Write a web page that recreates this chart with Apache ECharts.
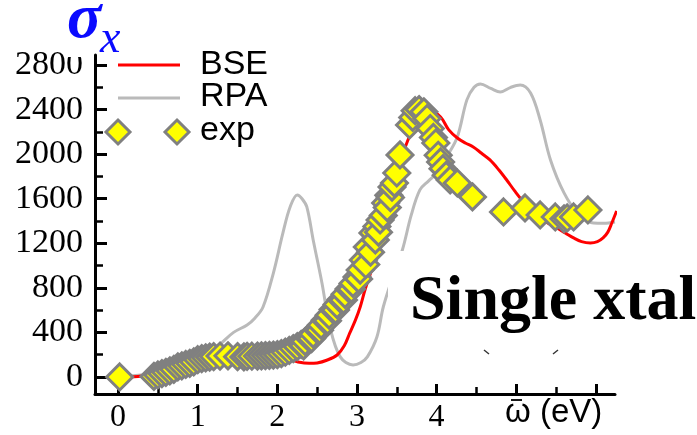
<!DOCTYPE html>
<html>
<head>
<meta charset="utf-8">
<style>
  html, body { margin: 0; padding: 0; background: #ffffff; }
  #chart { width: 697px; height: 435px; }
</style>
<script src="https://cdn.jsdelivr.net/npm/echarts@6/dist/echarts.min.js"></script>
</head>
<body>
<div id="chart"></div>
<script>
// Optical conductivity sigma_x of the single crystal: BSE and RPA spectra vs. experiment
const bseEnergy = [0, 0.25, 0.5, 0.75, 1.0, 1.25, 1.5, 1.75, 2.0, 2.15, 2.26, 2.4, 2.5, 2.62, 2.75, 2.84, 2.91, 2.98, 3.04, 3.1, 3.2, 3.3, 3.4, 3.5, 3.64, 3.78, 3.92, 4.05, 4.15, 4.26, 4.36, 4.46, 4.56, 4.67, 4.78, 4.88, 4.98, 5.07, 5.18, 5.3, 5.4, 5.51, 5.62, 5.72, 5.82, 5.93, 6.02, 6.09, 6.15, 6.2, 6.26];
const bseSigma  = [0, 5, 35, 90, 140, 175, 190, 195, 190, 160, 135, 122, 126, 150, 197, 280, 395, 510, 628, 780, 1000, 1280, 1560, 1830, 2127, 2320, 2390, 2334, 2220, 2145, 2100, 2065, 2010, 1948, 1860, 1768, 1670, 1589, 1510, 1436, 1380, 1337, 1290, 1248, 1215, 1203, 1215, 1248, 1300, 1382, 1490];

const rpaEnergy = [0, 0.5, 1.0, 1.2, 1.3, 1.45, 1.62, 1.72, 1.82, 1.95, 2.07, 2.16, 2.25, 2.31, 2.37, 2.45, 2.56, 2.66, 2.79, 2.95, 3.05, 3.13, 3.25, 3.33, 3.45, 3.57, 3.68, 3.79, 3.9, 4.0, 4.13, 4.26, 4.38, 4.47, 4.55, 4.68, 4.8, 4.93, 5.05, 5.18, 5.3, 5.43, 5.6, 5.77, 5.97, 6.1, 6.24];
const rpaSigma  = [0, 40, 160, 240, 305, 400, 467, 530, 628, 933, 1293, 1526, 1634, 1600, 1526, 1230, 844, 449, 180, 108, 130, 180, 359, 628, 900, 1140, 1450, 1679, 1760, 1831, 1980, 2154, 2487, 2600, 2630, 2590, 2558, 2600, 2621, 2549, 2307, 1948, 1652, 1472, 1382, 1380, 1391];

const expEnergy = [0.02, 0.45, 0.5, 0.55, 0.6, 0.65, 0.7, 0.75, 0.8, 0.85, 0.9, 0.95, 1.0, 1.05, 1.1, 1.15, 1.2, 1.28, 1.38, 1.5, 1.58, 1.62, 1.68, 1.75, 1.8, 1.85, 1.9, 1.95, 2.0, 2.05, 2.1, 2.15, 2.2, 2.25, 2.3, 2.33, 2.35, 2.4, 2.43, 2.45, 2.5, 2.53, 2.55, 2.6, 2.63, 2.65, 2.7, 2.73, 2.75, 2.8, 2.83, 2.85, 2.9, 2.93, 2.95, 3.0, 3.02, 3.04, 3.08, 3.11, 3.13, 3.17, 3.2, 3.23, 3.25, 3.27, 3.29, 3.33, 3.36, 3.38, 3.4, 3.42, 3.44, 3.47, 3.5, 3.54, 3.66, 3.7, 3.73, 3.78, 3.84, 3.88, 3.92, 3.96, 3.99, 4.02, 4.05, 4.08, 4.12, 4.17, 4.26, 4.45, 4.84, 5.11, 5.3, 5.49, 5.6, 5.64, 5.72, 5.9];
const expSigma  = [0, 5, 18, 30, 42, 55, 68, 90, 100, 112, 122, 135, 155, 165, 172, 178, 182, 188, 190, 182, 180, 185, 186, 188, 190, 192, 194, 196, 200, 210, 222, 238, 255, 272, 292, 280, 318, 348, 345, 385, 425, 420, 465, 508, 505, 555, 605, 600, 650, 695, 690, 742, 790, 790, 840, 898, 880, 960, 1050, 1010, 1167, 1120, 1293, 1230, 1350, 1300, 1409, 1450, 1562, 1520, 1630, 1610, 1705, 1740, 1831, 1993, 2262, 2330, 2390, 2400, 2380, 2320, 2230, 2150, 2100, 1990, 1930, 1870, 1810, 1768, 1741, 1616, 1481, 1517, 1454, 1436, 1420, 1427, 1436, 1499];

// Tick positions
const xMajorTicks = [0, 1, 2, 3, 4, 5, 6];
const xMinorTicks = [0.5, 1.5, 2.5, 3.5, 4.5, 5.5];
const xTickLabels = [0, 1, 2, 3, 4];
const yMajorTicks = [0, 400, 800, 1200, 1600, 2000, 2400, 2800];
const yMinorTicks = [200, 600, 1000, 1400, 1800, 2200, 2600];

const zip = (xs, ys) => xs.map((x, i) => [x, ys[i]]);

const X_MIN = -0.29, X_MAX = 6.24;
const Y_MIN = -153, Y_MAX = 2890;
const SERIF = 'Liberation Serif';
const SANS = 'Liberation Sans';
const YELLOW = '#ffff00';
const MARKER_EDGE = '#808080';
const RPA_GRAY = '#bababa';
const SIGMA_BLUE = '#0a0aff';

const chart = echarts.init(document.getElementById('chart'), null, { renderer: 'canvas' });

const baseX = {
  type: 'value', min: X_MIN, max: X_MAX, position: 'bottom',
  splitLine: { show: false }
};
const baseY = {
  type: 'value', min: Y_MIN, max: Y_MAX, position: 'left',
  splitLine: { show: false }
};
const plain = v => String(v);

chart.setOption({
  animation: false,
  backgroundColor: '#ffffff',
  grid: { left: 95, right: 82, top: 55, bottom: 41 },
  xAxis: [
    Object.assign({}, baseX, {
      axisLine: { onZero: false, lineStyle: { color: '#000', width: 3 } },
      axisTick: { inside: true, length: 10, customValues: xMajorTicks, lineStyle: { color: '#000', width: 3 } },
      axisLabel: { customValues: xTickLabels, formatter: plain, margin: 8, fontFamily: SERIF, fontSize: 32, color: '#000' }
    }),
    Object.assign({}, baseX, {
      axisLine: { show: false, onZero: false },
      axisTick: { inside: true, length: 7, customValues: xMinorTicks, lineStyle: { color: '#000', width: 2.5 } },
      axisLabel: { show: false }
    })
  ],
  yAxis: [
    Object.assign({}, baseY, {
      axisLine: { onZero: false, lineStyle: { color: '#000', width: 3 } },
      axisTick: { inside: true, length: 12, customValues: yMajorTicks, lineStyle: { color: '#000', width: 3 } },
      axisLabel: { customValues: yMajorTicks, formatter: plain, margin: 12, fontFamily: SERIF, fontSize: 34, color: '#000' }
    }),
    Object.assign({}, baseY, {
      axisLine: { show: false, onZero: false },
      axisTick: { inside: true, length: 8, customValues: yMinorTicks, lineStyle: { color: '#000', width: 2.5 } },
      axisLabel: { show: false }
    })
  ],
  series: [
    {
      name: 'RPA', type: 'line', xAxisIndex: 0, yAxisIndex: 0,
      data: zip(rpaEnergy, rpaSigma),
      showSymbol: false, smooth: 0.35, clip: true,
      lineStyle: { color: RPA_GRAY, width: 3 }, z: 2
    },
    {
      name: 'BSE', type: 'line', xAxisIndex: 0, yAxisIndex: 0,
      data: zip(bseEnergy, bseSigma),
      showSymbol: false, smooth: 0.35, clip: true,
      lineStyle: { color: '#ff0000', width: 3 }, z: 3
    },
    {
      name: 'exp', type: 'scatter', xAxisIndex: 0, yAxisIndex: 0,
      data: zip(expEnergy, expSigma),
      symbol: 'diamond', symbolSize: 26,
      itemStyle: { color: YELLOW, borderColor: MARKER_EDGE, borderWidth: 3, opacity: 1 },
      z: 20
    }
  ],
  graphic: {
    elements: [
      // panel caption on a white backdrop
      { type: 'rect', z: 50, shape: { x: 388, y: 251, width: 309, height: 133 }, style: { fill: '#ffffff' } },
      { type: 'text', z: 60, x: 410, y: 302,
        style: { text: 'Single xtal', fontFamily: SERIF, fontWeight: 'bold', fontSize: 64, fill: '#000', align: 'left', verticalAlign: 'middle' } },
      { type: 'line', z: 60, shape: { x1: 484, y1: 350, x2: 489, y2: 354 }, style: { stroke: '#333', lineWidth: 1.5 } },
      { type: 'line', z: 60, shape: { x1: 553, y1: 354, x2: 558, y2: 350 }, style: { stroke: '#333', lineWidth: 1.5 } },

      // x-axis title: omega with an overbar
      { type: 'rect', z: 50, shape: { x: 500, y: 397, width: 110, height: 38 }, style: { fill: '#ffffff' } },
      { type: 'text', z: 60, x: 505, y: 413,
        style: { text: 'ω (eV)', fontFamily: SANS, fontSize: 33, fill: '#000', align: 'left', verticalAlign: 'middle' } },
      { type: 'line', z: 60, shape: { x1: 511, y1: 400, x2: 522, y2: 400 }, style: { stroke: '#000', lineWidth: 1.8 } },

      // y-axis title
      { type: 'rect', z: 50, shape: { x: 68, y: 40, width: 22, height: 17 }, style: { fill: '#ffffff' } },
      { type: 'text', z: 60, x: 67, y: 20,
        style: { text: 'σ', fontFamily: SERIF, fontStyle: 'italic', fontWeight: 'bold', fontSize: 64, fill: SIGMA_BLUE, align: 'left', verticalAlign: 'middle' } },
      { type: 'text', z: 60, x: 100, y: 40,
        style: { text: 'x', fontFamily: SERIF, fontStyle: 'italic', fontSize: 46, fill: SIGMA_BLUE, align: 'left', verticalAlign: 'middle' } },

      // legend
      { type: 'line', z: 60, shape: { x1: 118, y1: 65, x2: 180, y2: 65 }, style: { stroke: '#ff0000', lineWidth: 3 } },
      { type: 'text', z: 60, x: 200, y: 65,
        style: { text: 'BSE', fontFamily: SANS, fontSize: 34, fill: '#000', align: 'left', verticalAlign: 'middle' } },
      { type: 'line', z: 60, shape: { x1: 118, y1: 98, x2: 180, y2: 98 }, style: { stroke: RPA_GRAY, lineWidth: 3 } },
      { type: 'text', z: 60, x: 200, y: 97,
        style: { text: 'RPA', fontFamily: SANS, fontSize: 34, fill: '#000', align: 'left', verticalAlign: 'middle' } },
      { type: 'polygon', z: 60, shape: { points: [[118, 120], [130, 132], [118, 144], [106, 132]] },
        style: { fill: YELLOW, stroke: MARKER_EDGE, lineWidth: 3 } },
      { type: 'polygon', z: 60, shape: { points: [[177, 120], [189, 132], [177, 144], [165, 132]] },
        style: { fill: YELLOW, stroke: MARKER_EDGE, lineWidth: 3 } },
      { type: 'text', z: 60, x: 200, y: 131,
        style: { text: 'exp', fontFamily: SANS, fontSize: 34, fill: '#000', align: 'left', verticalAlign: 'middle' } }
    ]
  }
});
</script>
</body>
</html>
